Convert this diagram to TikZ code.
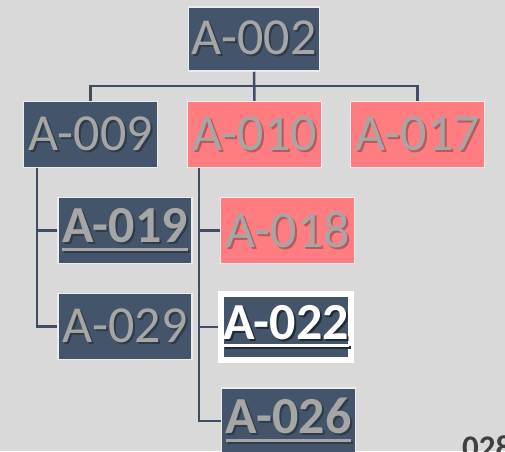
\documentclass[tikz,border=0pt]{standalone}
\usepackage{fontspec}
\setmainfont{Carlito}
\usepackage{tikz}
\usetikzlibrary{
  positioning,
  calc
}
\definecolor{bgcolor}{RGB}{217, 217, 217}
\definecolor{boxblue}{RGB}{68, 84, 106}
\definecolor{boxpink}{RGB}{255, 124, 128}
\definecolor{textgray}{RGB}{166, 166, 166}
\definecolor{linecolor}{RGB}{64, 78, 99}
\definecolor{edgecolor}{RGB}{236, 236, 236}
\definecolor{pagenumcolor}{RGB}{64, 64, 64}
\colorlet{txtshadow}{black}
% text with a soft drop shadow
\newcommand{\shtxt}[1]{\makebox[0pt][l]{\hspace{2pt}\raisebox{-2pt}{\color{txtshadow}#1}}#1}
% bold text with a thick underline
\newcommand{\ultxt}[1]{\setbox0\hbox{\bfseries #1}\shtxt{\rlap{\rule[-8pt]{\wd0}{3pt}}\bfseries #1}}
\tikzset{
blocktext/.style={
  font=\fontsize{52}{60}\selectfont,
  text=textgray,
  inner sep=0pt,
  align=center
},
blueblock/.style={
  draw=edgecolor,
  line width=1.5pt,
  fill=boxblue,
  minimum height=66pt,
  minimum width=134pt,
  execute at begin node={\colorlet{txtshadow}{boxblue!70!black}},
  blocktext
},
pinkblock/.style={
  draw=edgecolor,
  line width=1.5pt,
  fill=boxpink,
  minimum height=66pt,
  minimum width=134pt,
  execute at begin node={\colorlet{txtshadow}{boxpink!72!black}},
  blocktext
},
currentblock/.style={
  blueblock,
  draw=white,
  line width=6pt,
  minimum height=66pt,
  minimum width=130pt,
  text=white,
  execute at begin node={\colorlet{txtshadow}{boxblue!50!black}}
},
link/.style={
  draw=linecolor,
  line width=2.5pt
}
}

\begin{document}
\begin{tikzpicture}[x=1pt, y=-1pt]
  \useasboundingbox (0,0) rectangle (505,451);
  \fill[bgcolor] (0,0) rectangle (505,451);

  % top level
  \node[blueblock, minimum width=131pt, minimum height=64pt] (a002) at (254,39) {\shtxt{A-002}};

  % second row
  \node[blueblock] (a009) at (90.5,134.5) {\shtxt{A-009}};
  \node[pinkblock] (a010) at (254.5,134.5) {\shtxt{A-010}};
  \node[pinkblock] (a017) at (417.5,134.5) {\shtxt{A-017}};

  % children of A-009
  \node[blueblock] (a019) at (125,230.5) {\ultxt{A-019}};
  \node[blueblock] (a029) at (125,326.5) {\shtxt{A-029}};

  % children of A-010
  \node[pinkblock] (a018) at (287.5,230.5) {\shtxt{A-018}};
  \node[currentblock] (a022) at (286,327) {\ultxt{A-022}};
  \node[blueblock] (a026) at (288.5,421) {\ultxt{A-026}};

  % page number, cut by the border
  \node[anchor=base west, inner sep=0pt, font=\fontsize{33}{40}\selectfont\bfseries,
        text=pagenumcolor] (pagenum) at (462,458) {028};

  % connectors
  \draw[link] (a002.south) -- (a010.north);
  \draw[link] (a009.north) -- ++(0,-15) -| (a017.north);

  \coordinate (l009) at ([xshift=14pt]a009.south west);
  \draw[link] (l009) |- (a029.west);
  \draw[link] (a019.west) -- (a019.west -| l009);

  \coordinate (l010) at ([xshift=12pt]a010.south west);
  \draw[link] (l010) |- (a026.west);
  \draw[link] (a018.west) -- (a018.west -| l010);
  \draw[link] (a022.west) -- (a022.west -| l010);
\end{tikzpicture}
\end{document}
